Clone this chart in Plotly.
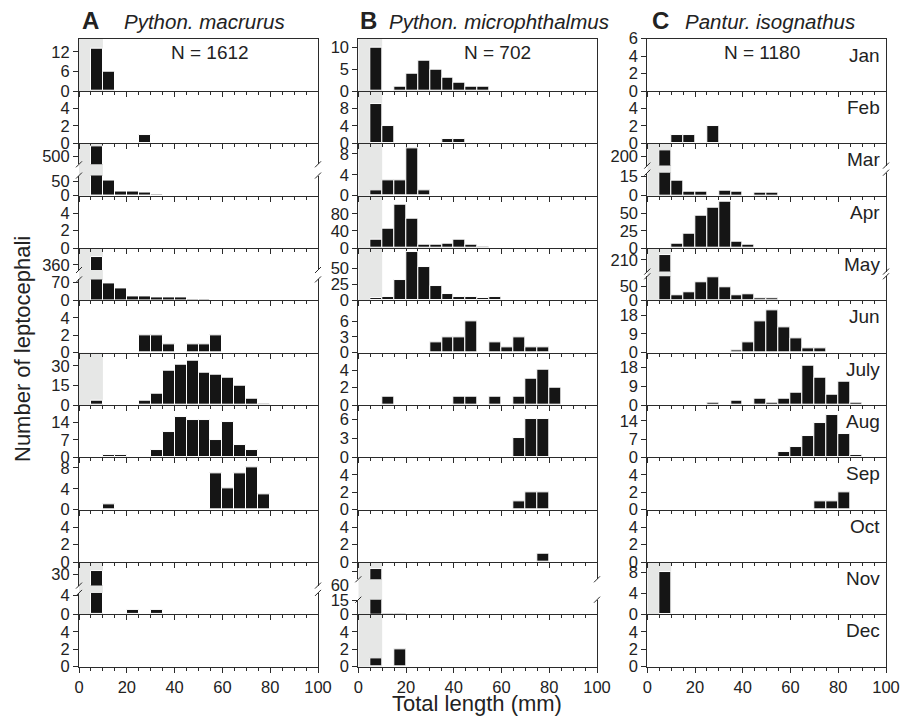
import plotly.graph_objects as go

# ---------------- data ----------------
bin_centers = [2.5, 7.5, 12.5, 17.5, 22.5, 27.5, 32.5, 37.5, 42.5, 47.5,
               52.5, 57.5, 62.5, 67.5, 72.5, 77.5, 82.5, 87.5]
months = ["Jan", "Feb", "Mar", "Apr", "May", "Jun", "July", "Aug", "Sep", "Oct", "Nov", "Dec"]
panel_letters = ["A", "B", "C"]
species_names = ["Python. macrurus", "Python. microphthalmus", "Pantur. isognathus"]
sample_sizes = ["N = 1612", "N = 702", "N = 1180"]
x_tick_vals = [0, 20, 40, 60, 80, 100]
shade_limit_mm = 10

# Python. macrurus (counts per 5-mm bin)
mac_jan = [0, 13, 6, 0, 0, 0, 0, 0, 0, 0, 0, 0, 0, 0, 0, 0, 0, 0]
mac_feb = [0, 0, 0, 0, 0, 1, 0, 0, 0, 0, 0, 0, 0, 0, 0, 0, 0, 0]
mac_mar = [0, 535, 52, 14, 14, 10, 5, 0, 0, 0, 0, 0, 0, 0, 0, 0, 0, 0]
mac_apr = [0, 0, 0, 0, 0, 0, 0, 0, 0, 0, 0, 0, 0, 0, 0, 0, 0, 0]
mac_may = [0, 390, 66, 49, 17, 17, 11, 12, 12, 5, 5, 0, 0, 0, 0, 0, 0, 0]
mac_jun = [0, 0, 0, 0, 0, 2, 2, 1, 0, 1, 1, 2, 0, 0, 0, 0, 0, 0]
mac_jul = [0, 3, 0, 0, 0, 3, 9, 26, 31, 34, 25, 23, 21, 15, 5, 1, 0, 0]
mac_aug = [0, 0, 1, 1, 0, 0, 3, 10, 16, 15, 15, 7, 14, 5, 3, 0, 0, 0]
mac_sep = [0, 0, 1, 0, 0, 0, 0, 0, 0, 0, 0, 7, 4, 7, 8, 3, 0, 0]
mac_oct = [0, 0, 0, 0, 0, 0, 0, 0, 0, 0, 0, 0, 0, 0, 0, 0, 0, 0]
mac_nov = [0, 33, 0, 0, 1, 0, 1, 0, 0, 0, 0, 0, 0, 0, 0, 0, 0, 0]
mac_dec = [0, 0, 0, 0, 0, 0, 0, 0, 0, 0, 0, 0, 0, 0, 0, 0, 0, 0]

# Python. microphthalmus
mic_jan = [0, 10, 0, 1, 4, 7, 5, 3, 2, 1, 1, 0, 0, 0, 0, 0, 0, 0]
mic_feb = [0, 9, 4, 0, 0, 0, 0, 1, 1, 0, 0, 0, 0, 0, 0, 0, 0, 0]
mic_mar = [0, 1, 3, 3, 9, 1, 0, 0, 0, 0, 0, 0, 0, 0, 0, 0, 0, 0]
mic_apr = [0, 20, 45, 100, 68, 8, 8, 11, 19, 8, 2, 0, 0, 0, 0, 0, 0, 0]
mic_may = [0, 4, 5, 32, 75, 53, 23, 10, 6, 5, 3, 5, 1, 0, 0, 0, 0, 0]
mic_jun = [0, 0, 0, 0, 0, 0, 2, 3, 3, 6, 0, 2, 1, 3, 1, 1, 0, 0]
mic_jul = [0, 0, 1, 0, 0, 0, 0, 0, 1, 1, 0, 1, 0, 1, 3, 4, 2, 0]
mic_aug = [0, 0, 0, 0, 0, 0, 0, 0, 0, 0, 0, 0, 0, 3, 6, 6, 0, 0]
mic_sep = [0, 0, 0, 0, 0, 0, 0, 0, 0, 0, 0, 0, 0, 1, 2, 2, 0, 0]
mic_oct = [0, 0, 0, 0, 0, 0, 0, 0, 0, 0, 0, 0, 0, 0, 0, 1, 0, 0]
mic_nov = [0, 63, 1, 1, 0, 0, 0, 0, 0, 0, 0, 0, 0, 0, 0, 0, 0, 0]
mic_dec = [0, 1, 0, 2, 0, 0, 0, 0, 0, 0, 0, 0, 0, 0, 0, 0, 0, 0]

# Pantur. isognathus
iso_jan = [0, 0, 0, 0, 0, 0, 0, 0, 0, 0, 0, 0, 0, 0, 0, 0, 0, 0]
iso_feb = [0, 0, 1, 1, 0, 2, 0, 0, 0, 0, 0, 0, 0, 0, 0, 0, 0, 0]
iso_mar = [0, 220, 12, 3, 3, 0, 4, 3, 0, 2, 2, 0, 0, 0, 0, 0, 0, 0]
iso_apr = [0, 1, 7, 21, 47, 59, 68, 9, 5, 1, 1, 0, 0, 0, 0, 0, 0, 0]
iso_may = [0, 223, 17, 30, 64, 83, 48, 18, 21, 7, 6, 0, 2, 0, 0, 0, 0, 0]
iso_jun = [0, 0, 0, 0, 0, 0, 0, 1, 5, 15, 20, 12, 7, 2, 2, 0, 0, 0]
iso_jul = [0, 0, 0, 0, 0, 1, 0, 2, 0, 3, 1, 3, 6, 19, 13, 5, 11, 1]
iso_aug = [0, 0, 0, 0, 0, 0, 0, 0, 0, 0, 0, 2, 4, 8, 13, 16, 9, 1]
iso_sep = [0, 0, 0, 0, 0, 0, 0, 0, 0, 0, 0, 0, 0, 0, 1, 1, 2, 0]
iso_oct = [0, 0, 0, 0, 0, 0, 0, 0, 0, 0, 0, 0, 0, 0, 0, 0, 0, 0]
iso_nov = [0, 8, 0, 0, 0, 0, 0, 0, 0, 0, 0, 0, 0, 0, 0, 0, 0, 0]
iso_dec = [0, 0, 0, 0, 0, 0, 0, 0, 0, 0, 0, 0, 0, 0, 0, 0, 0, 0]

macrurus = [mac_jan, mac_feb, mac_mar, mac_apr, mac_may, mac_jun,
            mac_jul, mac_aug, mac_sep, mac_oct, mac_nov, mac_dec]
microphthalmus = [mic_jan, mic_feb, mic_mar, mic_apr, mic_may, mic_jun,
                  mic_jul, mic_aug, mic_sep, mic_oct, mic_nov, mic_dec]
isognathus = [iso_jan, iso_feb, iso_mar, iso_apr, iso_may, iso_jun,
              iso_jul, iso_aug, iso_sep, iso_oct, iso_nov, iso_dec]

# shaded (hatchling) months per species
mac_shaded = ["Jan", "Mar", "May", "July", "Nov"]
mic_shaded = ["Jan", "Feb", "Mar", "Apr", "May", "Nov", "Dec"]
iso_shaded = ["Mar", "May", "Nov"]

# y axis top values and tick values (unbroken panels)
mac_ytop = [16, 6, None, 6, None, 6, 40, 21, 10, 6, None, 6]
mic_ytop = [12, 12, 10, 122, 82, 10, 6, 8.2, 6, 6, None, 6]
iso_ytop = [6, 6, None, 76, None, 25, 25, 20, 6, 6, 10, 6]
mac_yticks = [[0, 6, 12], [0, 2, 4], None, [0, 2, 4], None, [0, 2, 4],
              [0, 15, 30], [0, 7, 14], [0, 4, 8], [0, 2, 4], None, [0, 2, 4]]
mic_yticks = [[0, 5, 10], [0, 4, 8], [0, 4, 8], [0, 40, 80], [0, 25, 50], [0, 3, 6],
              [0, 2, 4], [0, 3, 6], [0, 2, 4], [0, 2, 4], None, [0, 2, 4]]
iso_yticks = [[0, 2, 4, 6], [0, 2, 4], None, [0, 25, 50], None, [0, 9, 18],
              [0, 9, 18], [0, 7, 14], [0, 2, 4], [0, 2, 4], [0, 4, 8], [0, 2, 4]]

# broken-axis panels: lower range/ticks, upper range/ticks
mac_breaks = {
    "Mar": dict(low=[0, 71], low_ticks=[0, 50], high=[473, 546], high_ticks=[500]),
    "May": dict(low=[0, 83], low_ticks=[0, 70], high=[340, 425], high_ticks=[360]),
    "Nov": dict(low=[0, 4.6], low_ticks=[0, 4], high=[20, 41], high_ticks=[30]),
}
mic_breaks = {
    "Nov": dict(low=[0, 16], low_ticks=[0, 15], high=[50.5, 72.5], high_ticks=[60]),
}
iso_breaks = {
    "Mar": dict(low=[0, 18], low_ticks=[0, 15], high=[173, 240], high_ticks=[200]),
    "May": dict(low=[0, 86], low_ticks=[0, 50], high=[175, 245], high_ticks=[210]),
}

species_counts = [macrurus, microphthalmus, isognathus]
species_shaded = [mac_shaded, mic_shaded, iso_shaded]
species_ytop = [mac_ytop, mic_ytop, iso_ytop]
species_yticks = [mac_yticks, mic_yticks, iso_yticks]
species_breaks = [mac_breaks, mic_breaks, iso_breaks]

# ---------------- layout geometry ----------------
W, H = 913, 719
col_px = [(79, 318), (358.3, 597), (647.3, 886)]
top_px, bot_px = 38.7, 666.7
row_h = (bot_px - top_px) / 12
# fraction of row height (from bottom): top of lower segment, bottom of upper segment
break_split = {
    (0, "Mar"): (0.385, 0.60),
    (0, "May"): (0.40, 0.58),
    (0, "Nov"): (0.41, 0.55),
    (1, "Nov"): (0.28, 0.67),
    (2, "Mar"): (0.44, 0.575),
    (2, "May"): (0.46, 0.55),
}
# vertical shift (px, positive = down) of the upper-segment tick label
upper_label_shift = {(1, "Nov"): 13}

LINE = "#2b2b2b"
BAR = "#151515"
SHADE = "#e6e7e6"
FONT = "Liberation Sans, Arial, sans-serif"
TICKFONT = dict(family=FONT, size=16.5, color="#222")


def px(x):
    return x / W


def py(y):
    return 1 - y / H


fig = go.Figure()
layout = dict(
    width=W, height=H, autosize=False,
    margin=dict(l=0, r=0, t=0, b=0, pad=0, autoexpand=False),
    paper_bgcolor="white", plot_bgcolor="rgba(0,0,0,0)",
    showlegend=False, bargap=0,
    font=dict(family=FONT, color="#222"),
)
shapes = []
annotations = []

extra_y = 37


def yaxis_dict(domain, rng, ticks, anchor, shift=0):
    return dict(
        domain=domain, range=rng, anchor=anchor, automargin=False,
        tickmode="array", tickvals=ticks, ticktext=[str(t) for t in ticks],
        ticklabelshift=shift,
        showline=True, linecolor=LINE, linewidth=1, mirror=True,
        ticks="outside", ticklen=5, tickwidth=1, tickcolor=LINE,
        tickfont=TICKFONT, showgrid=False, zeroline=False, fixedrange=True,
    )


for c in range(3):
    x0p, x1p = col_px[c]
    for r, month in enumerate(months):
        p = c * 12 + r + 1
        xname = "x" if p == 1 else f"x{p}"
        yname = "y" if p == 1 else f"y{p}"
        xkey = "xaxis" if p == 1 else f"xaxis{p}"
        ykey = "yaxis" if p == 1 else f"yaxis{p}"
        row_top = top_px + r * row_h
        row_bot = row_top + row_h

        layout[xkey] = dict(
            domain=[px(x0p), px(x1p)], range=[0, 100], anchor=yname, automargin=False,
            tickmode="array", tickvals=x_tick_vals,
            ticktext=[str(v) for v in x_tick_vals],
            showticklabels=(r == 11), tickfont=TICKFONT,
            showline=True, linecolor=LINE, linewidth=1, mirror=(r == 0),
            ticks="outside", ticklen=5, tickwidth=1, tickcolor=LINE,
            minor=dict(dtick=5, tick0=0, ticks="outside", ticklen=3,
                       tickwidth=1, tickcolor=LINE, showgrid=False),
            showgrid=False, zeroline=False, fixedrange=True,
        )

        counts = species_counts[c][r]
        xs = [b for b, v in zip(bin_centers, counts) if v > 0]
        ys = [v for v in counts if v > 0]
        if not xs:  # empty month: keep the panel (all-zero bars are blank)
            xs, ys = list(bin_centers), list(counts)
        bar_style = dict(marker=dict(color=BAR, line=dict(color="white", width=1)),
                         width=5, hoverinfo="skip")

        brk = species_breaks[c].get(month)
        if brk is None:
            layout[ykey] = yaxis_dict([py(row_bot), py(row_top)],
                                      [0, species_ytop[c][r]],
                                      species_yticks[c][r], xname)
            fig.add_trace(go.Bar(x=xs, y=ys, xaxis=xname, yaxis=yname, **bar_style))
        else:
            lf, uf = break_split[(c, month)]
            low_top = row_bot - lf * row_h
            up_bot = row_bot - uf * row_h
            layout[ykey] = yaxis_dict([py(row_bot), py(low_top)], brk["low"],
                                      brk["low_ticks"], xname)
            uname = f"y{extra_y}"
            layout[f"yaxis{extra_y}"] = yaxis_dict([py(up_bot), py(row_top)], brk["high"],
                                                   brk["high_ticks"], xname,
                                                   upper_label_shift.get((c, month), 0))
            extra_y += 1
            fig.add_trace(go.Bar(x=xs, y=ys, xaxis=xname, yaxis=yname, **bar_style))
            fig.add_trace(go.Bar(x=xs, y=ys, xaxis=xname, yaxis=uname, **bar_style))
            # break marks on both frame edges
            for ex in (x0p, x1p):
                for ey in (low_top, up_bot):
                    shapes.append(dict(type="line", xref="paper", yref="paper",
                                       x0=px(ex - 3), y0=py(ey + 3),
                                       x1=px(ex + 3), y1=py(ey - 3),
                                       line=dict(color=LINE, width=1)))

        if month in species_shaded[c]:
            shapes.append(dict(type="rect", xref=xname, yref="paper",
                               x0=0, x1=shade_limit_mm, y0=py(row_bot), y1=py(row_top),
                               fillcolor=SHADE, line=dict(width=0), layer="below"))

        if c == 2:
            annotations.append(dict(text=month, xref="paper", yref="paper",
                                    x=px(882), y=py(row_top + 16.5),
                                    xanchor="right", yanchor="middle", showarrow=False,
                                    font=dict(family=FONT, size=19, color="#222")))

# titles
letter_px = [82, 360, 652]
name_px = [124, 389, 685]
n_px = [210, 497, 762]
for c in range(3):
    annotations.append(dict(text=f"<b>{panel_letters[c]}</b>", xref="paper", yref="paper",
                            x=px(letter_px[c] - 2), y=py(20), xanchor="left", yanchor="middle",
                            showarrow=False, font=dict(family=FONT, size=24, color="#222")))
    annotations.append(dict(text=f"<i>{species_names[c]}</i>", xref="paper", yref="paper",
                            x=px(name_px[c] - 2), y=py(21), xanchor="left", yanchor="middle",
                            showarrow=False, font=dict(family=FONT, size=20.5, color="#222")))
    annotations.append(dict(text=sample_sizes[c], xref="paper", yref="paper",
                            x=px(n_px[c]), y=py(53), xanchor="center", yanchor="middle",
                            showarrow=False, font=dict(family=FONT, size=19, color="#222")))

annotations.append(dict(text="Number of leptocephali", xref="paper", yref="paper",
                        x=px(22), y=py(349), textangle=-90, xanchor="center", yanchor="middle",
                        showarrow=False, font=dict(family=FONT, size=22, color="#222")))
annotations.append(dict(text="Total length (mm)", xref="paper", yref="paper",
                        x=px(477), y=py(703), xanchor="center", yanchor="middle",
                        showarrow=False, font=dict(family=FONT, size=22, color="#222")))

layout["shapes"] = shapes
layout["annotations"] = annotations
fig.update_layout(**layout)
fig.write_html("out.html")
